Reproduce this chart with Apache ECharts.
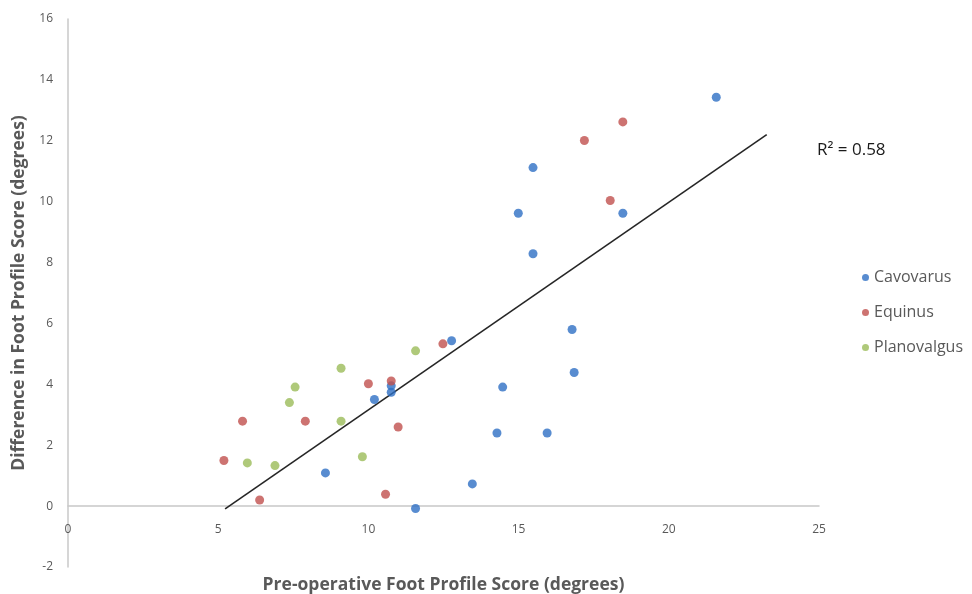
<!DOCTYPE html>
<html>
<head>
<meta charset="utf-8">
<script src="https://cdn.jsdelivr.net/npm/echarts@6/dist/echarts.min.js"></script>
<style>
html,body{margin:0;padding:0;background:#fff;}
#chart{width:972px;height:594px;}
</style>
</head>
<body>
<div id="chart"></div>
<script>
// Data
var seriesNames = ['Cavovarus', 'Equinus', 'Planovalgus'];

var cavovarusX = [21.58, 18.47, 15.48, 14.99, 15.48, 8.57, 10.20, 10.76, 10.76, 11.57, 12.77, 13.46, 14.28, 14.47, 15.95, 16.78, 16.85];
var cavovarusY = [13.43, 9.62, 11.12, 9.62, 8.29, 1.09, 3.50, 3.95, 3.74, -0.08, 5.43, 0.73, 2.40, 3.91, 2.40, 5.80, 4.39];

var equinusX = [18.47, 18.05, 17.19, 5.19, 5.81, 6.38, 7.90, 10.00, 10.76, 10.99, 10.57, 12.48];
var equinusY = [12.62, 10.04, 12.01, 1.50, 2.79, 0.20, 2.79, 4.02, 4.11, 2.60, 0.39, 5.33];

var planovalgusX = [5.97, 6.89, 7.37, 7.56, 9.09, 9.09, 9.80, 11.57];
var planovalgusY = [1.42, 1.33, 3.40, 3.91, 4.53, 2.79, 1.62, 5.10];

// Linear trend line endpoints (as drawn in the reference)
var trendX = [5.23, 23.26];
var trendY = [-0.09, 12.20];
var rSquaredLabel = 'R\u00B2 = 0.58';

var xTitle = 'Pre-operative Foot Profile Score (degrees)';
var yTitle = 'Difference in Foot Profile Score (degrees)';

function pairs(xs, ys) {
  return xs.map(function (x, i) { return [x, ys[i]]; });
}

var colors = ['#2e6fc4', '#c0504d', '#9bbb59'];
var fontFam = '"Open Sans", "Liberation Sans", sans-serif';

var chart = echarts.init(document.getElementById('chart'), null, {renderer: 'canvas'});
chart.setOption({
  animation: false,
  backgroundColor: '#ffffff',
  color: colors,
  grid: {left: 68, right: 153, top: 19, bottom: 27, containLabel: false, outerBoundsMode: 'none'},
  legend: {
    orient: 'vertical',
    left: 857,
    top: 263,
    icon: 'circle',
    itemWidth: 7,
    itemHeight: 7,
    itemGap: 16,
    data: seriesNames,
    textStyle: {color: '#595959', fontSize: 16, fontFamily: fontFam, lineHeight: 19}
  },
  xAxis: {
    type: 'value',
    min: 0, max: 25, interval: 5,
    axisLine: {show: true, onZero: true, lineStyle: {color: '#c8c8c8', width: 1.5}},
    axisTick: {show: false},
    splitLine: {show: false},
    axisLabel: {color: '#595959', fontSize: 12, fontFamily: fontFam, margin: -43},
    name: xTitle,
    nameLocation: 'middle',
    nameGap: 9,
    nameTextStyle: {color: '#595959', fontSize: 17.5, fontWeight: 'bold', fontFamily: fontFam}
  },
  yAxis: {
    type: 'value',
    min: -2, max: 16, interval: 2,
    axisLine: {show: true, onZero: false, lineStyle: {color: '#c8c8c8', width: 1.5}},
    axisTick: {show: false},
    splitLine: {show: false},
    axisLabel: {color: '#595959', fontSize: 12, fontFamily: fontFam, margin: 15},
    name: yTitle,
    nameLocation: 'middle',
    nameGap: 29,
    nameTextStyle: {color: '#595959', fontSize: 17.5, fontWeight: 'bold', fontFamily: fontFam}
  },
  graphic: [{
    type: 'text',
    left: 817,
    top: 142,
    style: {text: rSquaredLabel, fill: '#1a1a1a', fontSize: 17, fontFamily: fontFam}
  }],
  series: [
    {name: seriesNames[0], type: 'scatter', symbolSize: 9, data: pairs(cavovarusX, cavovarusY), itemStyle: {color: colors[0]}, z: 3},
    {name: seriesNames[1], type: 'scatter', symbolSize: 9, data: pairs(equinusX, equinusY), itemStyle: {color: colors[1]}, z: 3},
    {name: seriesNames[2], type: 'scatter', symbolSize: 9, data: pairs(planovalgusX, planovalgusY), itemStyle: {color: colors[2]}, z: 3},
    {name: 'Trend', type: 'line', data: pairs(trendX, trendY), showSymbol: false, symbol: 'none',
     lineStyle: {color: '#262626', width: 1.6}, itemStyle: {color: '#262626'}, z: 2, silent: true}
  ]
});
</script>
</body>
</html>
